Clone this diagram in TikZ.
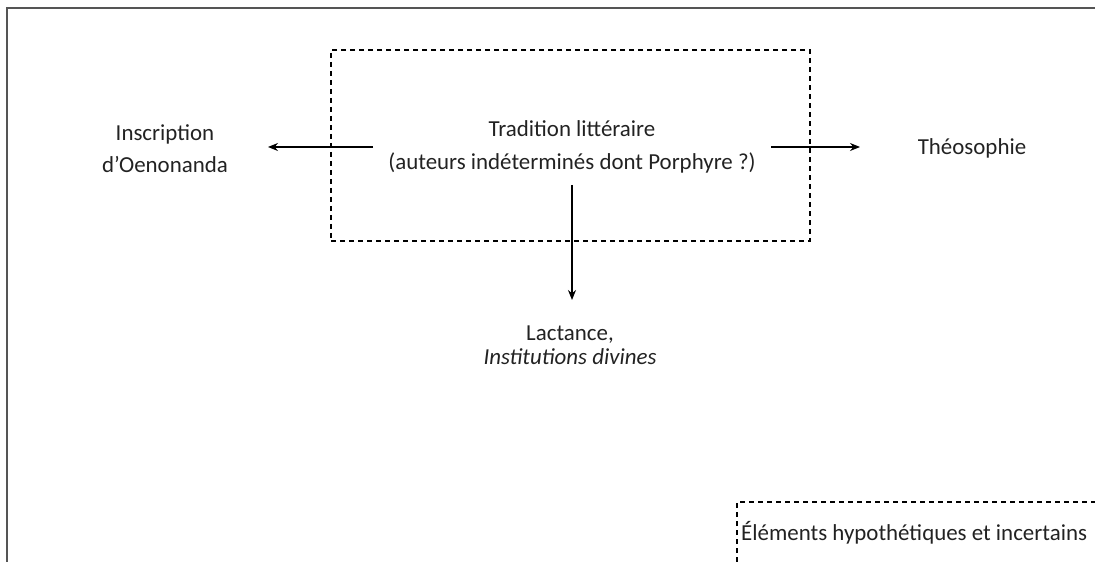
\documentclass[tikz,border=0pt]{standalone}
\usepackage{fontspec}
\setmainfont{Carlito}
\usetikzlibrary{arrows.meta}
\definecolor{framegray}{HTML}{555555}
\definecolor{txt}{HTML}{222222}
\begin{document}
\begin{tikzpicture}[x=1bp,y=-1bp,
  lbl/.style={text=txt,font=\fontsize{23}{33}\selectfont,align=center,inner sep=0pt},
  hyp/.style={draw=black,dash pattern=on 5bp off 4bp,line width=1.3bp},
  conn/.style={draw=black,line width=1.3bp,-{Stealth[length=10bp,width=8bp]}}]
\useasboundingbox (0,0) rectangle (1095,562);
% frame
\draw[framegray,line width=2bp] (7,562) -- (7,8) -- (1095,8);
% dashed box
\node[hyp,rectangle,minimum width=479bp,minimum height=191bp,inner sep=0pt] (box) at (570.5,145.5) {};
\node[lbl] (trad) at (572,147) {Tradition littéraire\\(auteurs indéterminés dont Porphyre ?)};
\node[lbl,font=\fontsize{23}{32}\selectfont] (insc) at (165,149) {Inscription\\d’Oenonanda};
\node[lbl] (theo) at (972,148) {Théosophie};
\node[lbl,font=\fontsize{23}{24}\selectfont] (lact) at (570,345) {Lactance,\\\textit{Institutions divines}};
% connectors
\coordinate (lstart) at (373,147);
\coordinate (lend) at (268,147);
\coordinate (rstart) at (771,147);
\coordinate (rend) at (860,147);
\coordinate (dstart) at (572,185);
\coordinate (dend) at (572,300);
\draw[conn] (lstart) -- (lend);
\draw[conn] (rstart) -- (rend);
\draw[conn] (dstart) -- (dend);
% legend
\coordinate (legA) at (737,562);
\coordinate (legB) at (737,502);
\coordinate (legC) at (1095,502);
\draw[hyp] (legA) -- (legB) -- (legC);
\node[lbl,anchor=west] (leg) at (741,533) {Éléments hypothétiques et incertains};
\end{tikzpicture}
\end{document}
